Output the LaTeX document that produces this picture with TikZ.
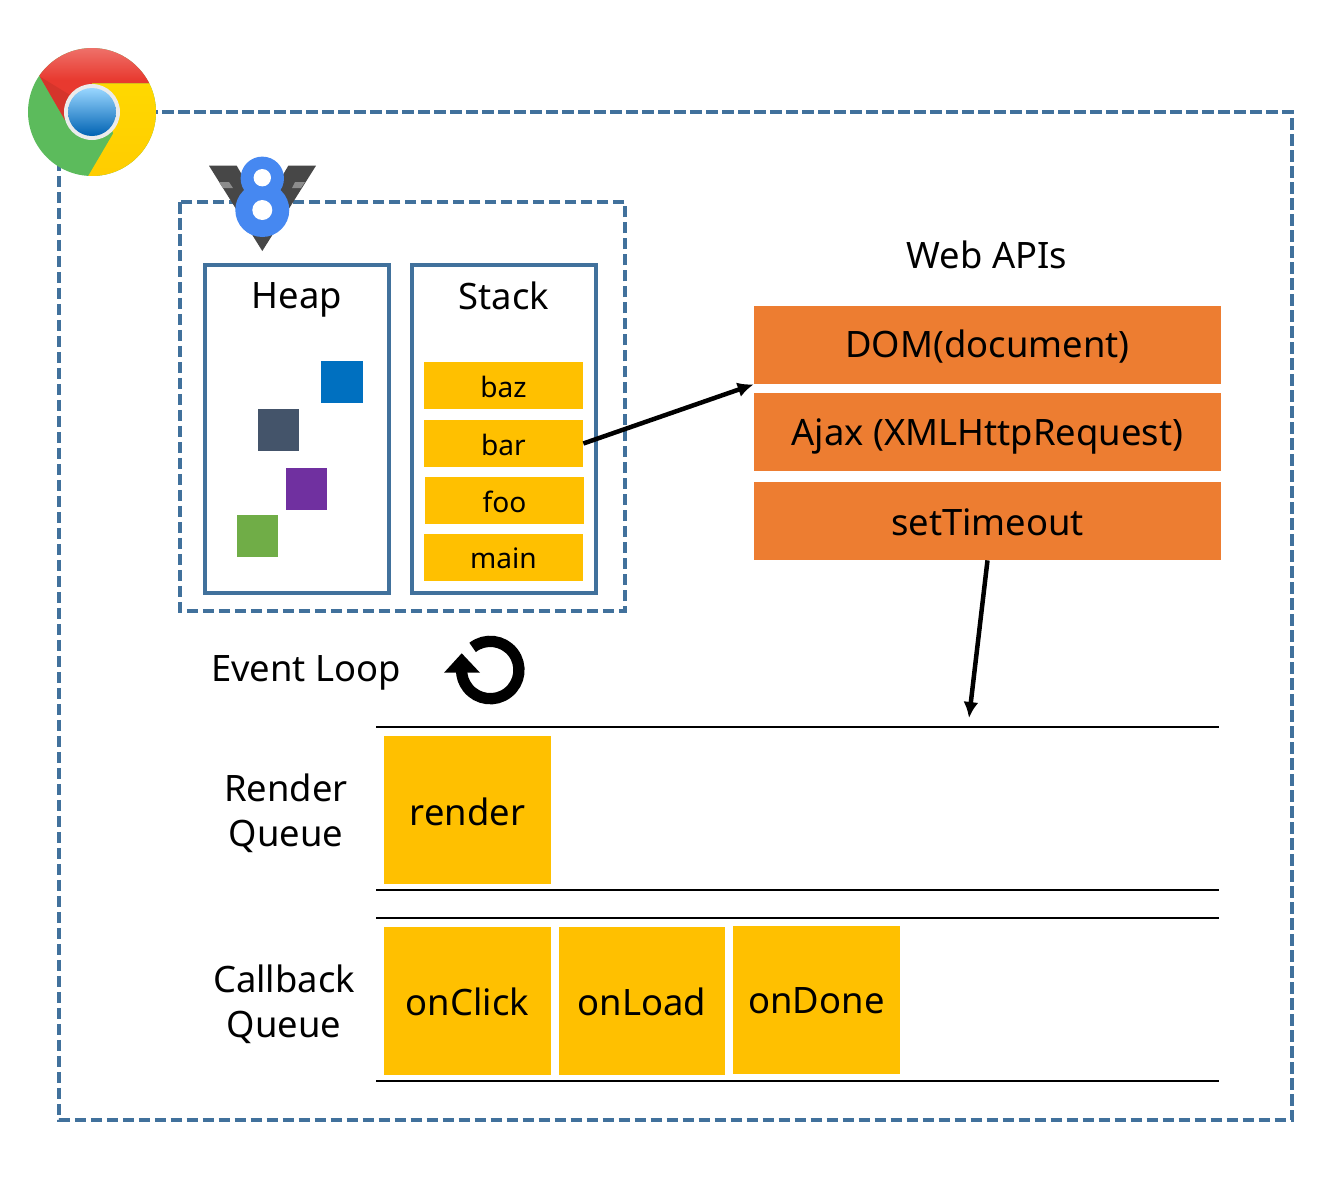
\documentclass[tikz,border=0pt]{standalone}
\usepackage{fontspec}
\setmainfont{Noto Sans}
\usepackage{tikz}
\usetikzlibrary{arrows.meta}
\definecolor{frameblue}{HTML}{41719C}
\definecolor{amber}{HTML}{FFC000}
\definecolor{tangerine}{HTML}{ED7D31}
\definecolor{chromered}{HTML}{E8392F}
\definecolor{chromegreen}{HTML}{5CBB5C}
\definecolor{chromeyellow}{HTML}{FFD800}
\definecolor{veightblue}{HTML}{4688F1}
\tikzset{
  dashframe/.style={draw=frameblue, line width=0.08cm, dash pattern=on 0.23cm off 0.09cm},
  panel/.style={draw=frameblue, line width=0.08cm, inner sep=0pt, minimum width=3.68cm, minimum height=6.56cm},
  frame/.style={inner sep=0pt, font=\fontsize{20.7}{25.5}\selectfont, align=center},
  item/.style={fill=amber, inner sep=0pt, minimum width=3.18cm, minimum height=0.94cm},
  itemtext/.style={font=\fontsize{16}{20}\selectfont},
  obj/.style={inner sep=0pt, minimum size=0.84cm},
  api/.style={fill=tangerine, inner sep=0pt, minimum width=9.34cm, minimum height=1.56cm},
  task/.style={fill=amber, inner sep=0pt, minimum width=3.34cm, minimum height=2.96cm},
  rule/.style={line width=0.04cm},
  ed/.style={-{Latex[length=0.32cm,width=0.3cm]}, line width=0.09cm}
}

\begin{document}
\begin{tikzpicture}[x=0.02cm,y=-0.02cm]
\useasboundingbox (0,0) rectangle (1329,1178);
% frames
\draw[dashframe] (59,112) rectangle (1292,1120);
\draw[dashframe] (180,202) rectangle (625,611);
\node[panel] (heap) at (297,429) {};
\node[panel] (stack) at (504,429) {};
\node[frame] (heaplabel) at (297,300) {Heap};
\node[frame] (stacklabel) at (504,296) {Stack};
% heap objects
\node[obj,fill={rgb,255:red,0;green,112;blue,192}] (o1) at (342,382) {};
\node[obj,fill={rgb,255:red,68;green,84;blue,106}] (o2) at (278.5,430) {};
\node[obj,fill={rgb,255:red,112;green,48;blue,160}] (o3) at (306.5,489) {};
\node[obj,fill={rgb,255:red,112;green,173;blue,71}] (o4) at (257.5,536) {};
% stack frames
\node[item] (baz) at (503.5,385.5) {};
\node[item] (bar) at (503.5,443.5) {};
\node[item] (foo) at (504.5,500.5) {};
\node[item] (main) at (503.5,557.5) {};
\node[itemtext] (baztext) at (503.5,386.5) {baz};
\node[itemtext] (bartext) at (503.5,444.5) {bar};
\node[itemtext] (footext) at (504.5,501.5) {foo};
\node[itemtext] (maintext) at (503.5,558.5) {main};
% web apis
\node[frame] (weblabel) at (987,255) {Web APIs};
\node[api] (dom) at (987.5,345) {};
\node[api] (ajax) at (987.5,432) {};
\node[api] (timer) at (987.5,521) {};
\node[frame] (domtext) at (987.5,347) {DOM(document)};
\node[frame] (ajaxtext) at (987.5,436) {Ajax (XMLHttpRequest)};
\node[frame] (timertext) at (987.5,522) {setTimeout};
\coordinate (drop) at (969,718);
\draw[ed] (bar.east) -- (dom.south west);
\draw[ed] (timer.south) -- (drop);
% event loop
\node[frame] (looplabel) at (306,673) {Event Loop};
\draw[line width=0.226cm] (472.6,647.4) arc[start angle=128,end angle=-180,radius=0.574cm];
\fill (444,672.7) -- (480,672.7) -- (461.7,653.3) -- cycle;
% queues
\draw[rule] (376,727) -- (1219,727);
\draw[rule] (376,890) -- (1219,890);
\draw[rule] (376,918) -- (1219,918);
\draw[rule] (376,1081) -- (1219,1081);
\node[frame] (renderlabel) at (286,813) {Render\\Queue};
\node[frame] (callbacklabel) at (284,1004) {Callback\\Queue};
\node[task] (render) at (467.5,810) {};
\node[task] (click) at (467.5,1001) {};
\node[task] (load) at (642,1001) {};
\node[task] (done) at (816.5,1000) {};
\node[frame] (rendertext) at (467.5,812) {render};
\node[frame] (clicktext) at (467.5,1002) {onClick};
\node[frame] (loadtext) at (642,1002) {onLoad};
\node[frame] (donetext) at (816.5,1001) {onDone};
% chrome logo
\begin{scope}
\clip (92,112) circle[radius=1.28cm];
\fill[chromegreen] (20,40) rectangle (170,190);
\shade[top color=chromered!65!white, bottom color=chromered, middle color=chromered] (149,83.3) -- (92.3,83.3) -- (65,120) -- (40,76.7) -- (30,59.7) -- (30,40) -- (170,40) -- (170,83.3) -- cycle;
\fill[chromered!92!black] (40,76.7) -- (65,120) -- (70,95) -- cycle;
\shade[top color=chromeyellow, bottom color=chromeyellow!85!orange] (92,83.3) -- (170,83.3) -- (170,190) -- (80,190) -- (113.3,133.3) -- cycle;
\end{scope}
\fill[white!92!black] (92,112) circle[radius=0.56cm];
\shade[top color=blue!40!cyan!40!white, bottom color=blue!45!cyan!70!black] (92,112) circle[radius=0.48cm];
% v8 logo
\fill[black!72] (209,165.7) -- (262.3,251) -- (316,165.7) -- (288.3,165.7) -- (262.3,210) -- (236.7,165.7) -- cycle;
\fill[black!45] (219,182) -- (229,182) -- (233,188) -- (223,188) -- cycle;
\fill[black!45] (305,182) -- (295,182) -- (292,188) -- (301,188) -- cycle;
\fill[veightblue] (262.3,178.3) circle[radius=0.434cm];
\fill[veightblue] (262.3,210) circle[radius=0.54cm];
\fill[white] (262.3,177.7) circle[radius=0.174cm];
\fill[white] (262.3,210) circle[radius=0.2cm];
\end{tikzpicture}
\end{document}
